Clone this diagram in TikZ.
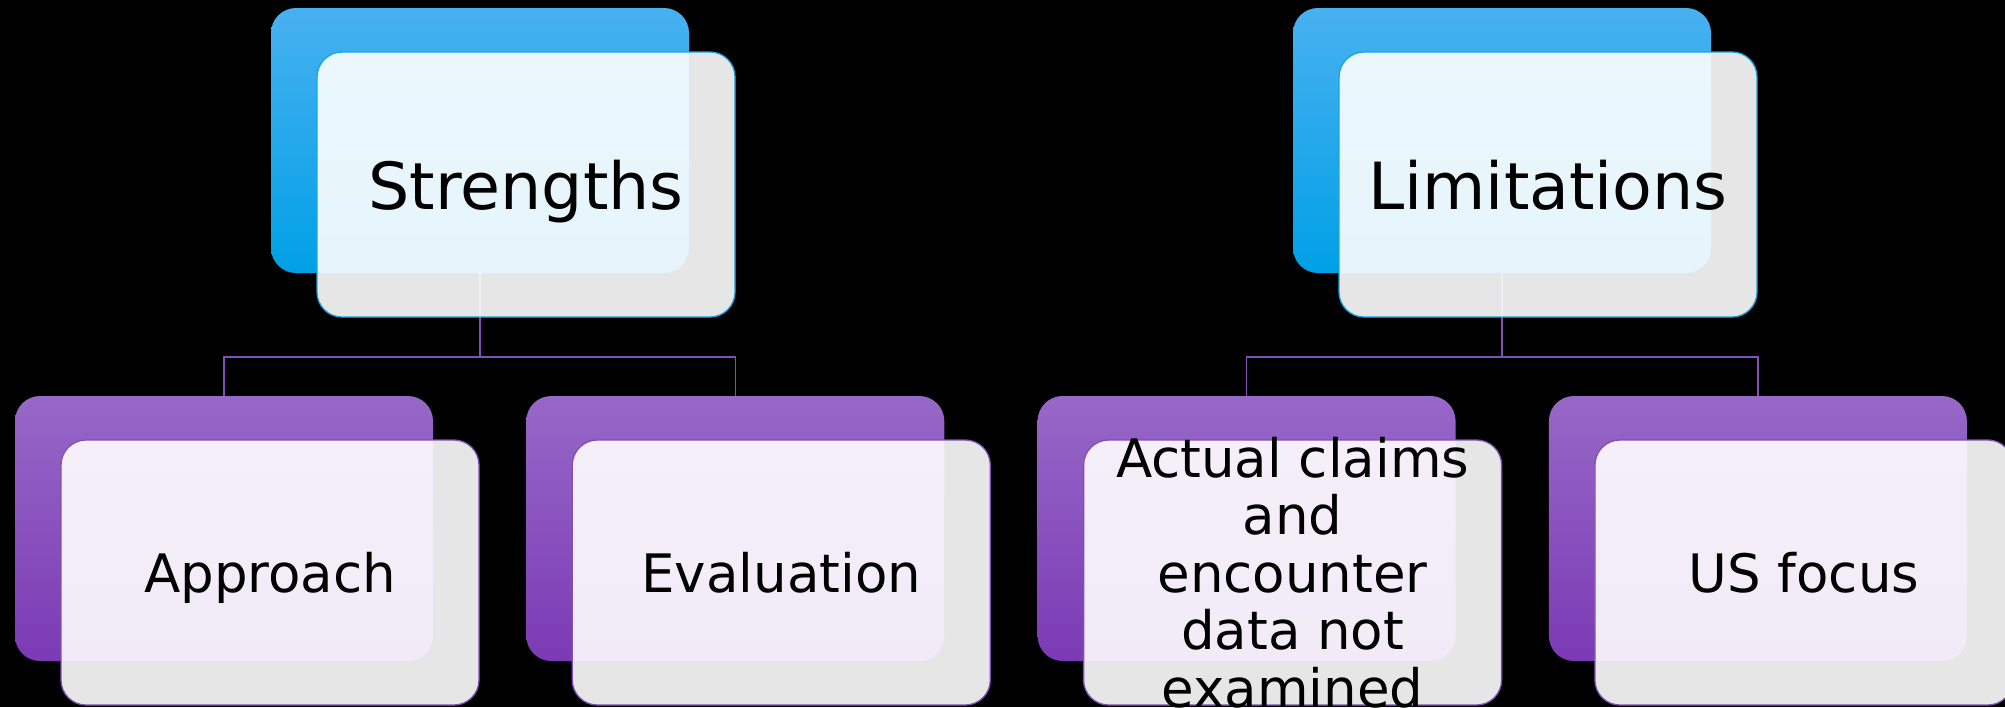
\documentclass[tikz,border=0pt]{standalone}
\usepackage{fontspec}
\setmainfont{DejaVu Sans}

\definecolor{bluetop}{RGB}{72,177,240}
\definecolor{bluebot}{RGB}{0,160,230}
\definecolor{purptop}{RGB}{151,104,200}
\definecolor{purpbot}{RGB}{123,58,180}
\definecolor{blueline}{RGB}{26,163,224}
\definecolor{purpline}{RGB}{128,80,182}

\begin{document}
\begin{tikzpicture}[x=1pt,y=-1pt,
  box/.style={anchor=north west,rounded corners=25pt,minimum width=418pt,minimum height=265pt,inner sep=0pt,outer sep=0pt},
  topback/.style={box,top color=bluetop,bottom color=bluebot},
  subback/.style={box,top color=purptop,bottom color=purpbot},
  front/.style={box,fill=white,fill opacity=.9,line width=1.3pt},
  topfront/.style={front,draw=blueline},
  subfront/.style={front,draw=purpline},
  toplbl/.style={inner sep=0pt,text depth=0pt,font=\fontsize{65}{78}\selectfont},
  sublbl/.style={inner sep=0pt,align=center,font=\fontsize{53}{57.5}\selectfont},
  conn/.style={draw=purpline,line width=1.3pt}]
\useasboundingbox (0,0) rectangle (2005,707);
\clip (0,0) rectangle (2005,707);
\fill[black] (0,0) rectangle (2005,707);

% back boxes
\node[topback] (strB) at (271,8) {};
\node[topback] (limB) at (1293,8) {};
\foreach \i/\nm in {0/appr,1/eval,2/clms,3/usf}{
  \node[subback] (\nm B) at (15+511.3*\i,396) {};
}

% connectors
\draw[conn] (strB.south) -- ++(0,84) coordinate (strJ);
\draw[conn] (strJ) -| (apprB.north);
\draw[conn] (strJ) -| (evalB.north);
\draw[conn] (limB.south) -- ++(0,84) coordinate (limJ);
\draw[conn] (limJ) -| (clmsB.north);
\draw[conn] (limJ) -| (usfB.north);

% front boxes
\node[topfront] (strF) at (317,52) {};
\node[topfront] (limF) at (1339,52) {};
\foreach \i/\nm in {0/appr,1/eval,2/clms,3/usf}{
  \node[subfront] (\nm F) at (61+511.3*\i,440) {};
}

% labels
\node[toplbl] (strT) at (strF) {Strengths};
\node[toplbl] (limT) at (limF) {Limitations};
\node[sublbl,text depth=0pt] (apprT) at (apprF) {Approach};
\node[sublbl,text depth=0pt] (evalT) at (evalF) {Evaluation};
\node[sublbl] (clmsT) at (clmsF) {Actual claims\\and\\encounter\\data not\\examined};
\node[sublbl,text depth=0pt] (usfT) at (usfF) {US focus};
\end{tikzpicture}
\end{document}
